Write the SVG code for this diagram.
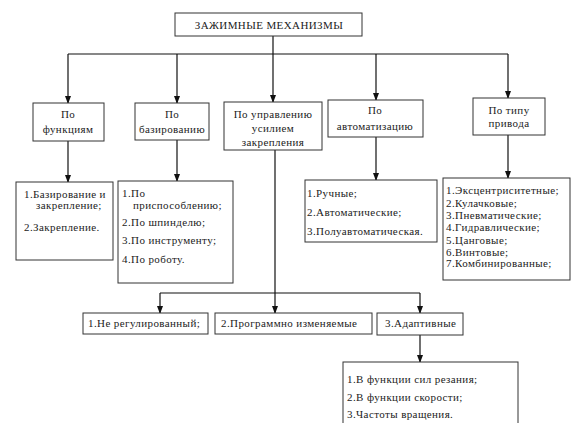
<svg xmlns="http://www.w3.org/2000/svg" width="571" height="423" viewBox="0 0 571 423">
<defs>
<marker id="arr" markerWidth="8" markerHeight="6" refX="7" refY="3" orient="auto" markerUnits="userSpaceOnUse">
<path d="M0,0 L8,3 L0,6 Z" fill="#111"/>
</marker>
<style>
.box{fill:#fff;stroke:#333;stroke-width:1}
.t{font-family:'Liberation Serif','DejaVu Serif',serif;font-size:11px;letter-spacing:0.4px;fill:#222}
.c{text-anchor:middle}
.ln{stroke:#111;stroke-width:1.2;fill:none}
</style>
</defs>
<rect width="571" height="423" fill="#fff"/>
<g id="connectors">
<path class="ln" d="M273,36 V54"/>
<path class="ln" d="M68,54 H508"/>
<path class="ln" d="M68,54 V103" marker-end="url(#arr)"/>
<path class="ln" d="M177,54 V103" marker-end="url(#arr)"/>
<path class="ln" d="M273,54 V102" marker-end="url(#arr)"/>
<path class="ln" d="M376,54 V100" marker-end="url(#arr)"/>
<path class="ln" d="M508,54 V98" marker-end="url(#arr)"/>
<path class="ln" d="M68,141 V182" marker-end="url(#arr)"/>
<path class="ln" d="M177,140 V181" marker-end="url(#arr)"/>
<path class="ln" d="M376,137 V180" marker-end="url(#arr)"/>
<path class="ln" d="M508,135 V178" marker-end="url(#arr)"/>
<path class="ln" d="M275,150 V293"/>
<path class="ln" d="M160,293 H420"/>
<path class="ln" d="M160,293 V313" marker-end="url(#arr)"/>
<path class="ln" d="M275,293 V313" marker-end="url(#arr)"/>
<path class="ln" d="M420,293 V313" marker-end="url(#arr)"/>
<path class="ln" d="M420,335 V362" marker-end="url(#arr)"/>
</g>
<g id="title">
<rect class="box" x="175" y="13" width="187" height="23"/>
<text class="t c" x="269" y="29">ЗАЖИМНЫЕ МЕХАНИЗМЫ</text>
</g>
<g id="n1">
<rect class="box" x="33" y="103" width="71" height="38"/>
<text class="t c" x="68" y="118">По</text>
<text class="t c" x="68" y="133">функциям</text>
</g>
<g id="n2">
<rect class="box" x="135" y="103" width="74" height="37"/>
<text class="t c" x="172" y="118">По</text>
<text class="t c" x="172" y="133">базированию</text>
</g>
<g id="n3">
<rect class="box" x="224" y="102" width="98" height="48"/>
<text class="t c" x="273" y="118">По управлению</text>
<text class="t c" x="273" y="132">усилием</text>
<text class="t c" x="273" y="146">закрепления</text>
</g>
<g id="n4">
<rect class="box" x="328" y="100" width="95" height="37"/>
<text class="t c" x="375" y="114">По</text>
<text class="t c" x="375" y="130">автоматизацию</text>
</g>
<g id="n5">
<rect class="box" x="473" y="98" width="72" height="37"/>
<text class="t c" x="509" y="114">По типу</text>
<text class="t c" x="509" y="127">привода</text>
</g>
<g id="l1">
<rect class="box" x="16" y="182" width="97" height="78"/>
<text class="t" x="24" y="198">1.Базирование и</text>
<text class="t" x="36" y="209">закрепление;</text>
<text class="t" x="24" y="231">2.Закрепление.</text>
</g>
<g id="l2">
<rect class="box" x="118" y="181" width="115" height="102"/>
<text class="t" x="122" y="197">1.По</text>
<text class="t" x="133" y="209">приспособлению;</text>
<text class="t" x="122" y="226">2.По шпинделю;</text>
<text class="t" x="122" y="244">3.По инструменту;</text>
<text class="t" x="122" y="263">4.По роботу.</text>
</g>
<g id="l4">
<rect class="box" x="305" y="180" width="132" height="62"/>
<text class="t" x="307" y="197">1.Ручные;</text>
<text class="t" x="307" y="216">2.Автоматические;</text>
<text class="t" x="307" y="235">3.Полуавтоматическая.</text>
</g>
<g id="l5">
<rect class="box" x="443" y="178" width="127" height="102"/>
<text class="t" x="446" y="194">1.Эксцентриситетные;</text>
<text class="t" x="446" y="207">2.Кулачковые;</text>
<text class="t" x="446" y="219">3.Пневматические;</text>
<text class="t" x="446" y="231">4.Гидравлические;</text>
<text class="t" x="446" y="244">5.Цанговые;</text>
<text class="t" x="446" y="256">6.Винтовые;</text>
<text class="t" x="446" y="267">7.Комбинированные;</text>
</g>
<g id="b1">
<rect class="box" x="83" y="313" width="125" height="21"/>
<text class="t" x="88" y="327">1.Не регулированный;</text>
</g>
<g id="b2">
<rect class="box" x="215" y="313" width="157" height="21"/>
<text class="t" x="221" y="327">2.Программно изменяемые</text>
</g>
<g id="b3">
<rect class="box" x="377" y="313" width="86" height="22"/>
<text class="t" x="385" y="327">3.Адаптивные</text>
</g>
<g id="b4">
<rect class="box" x="343" y="362" width="175" height="62"/>
<text class="t" x="347" y="383">1.В функции сил резания;</text>
<text class="t" x="347" y="401">2.В функции скорости;</text>
<text class="t" x="347" y="418">3.Частоты вращения.</text>
</g>
</svg>
